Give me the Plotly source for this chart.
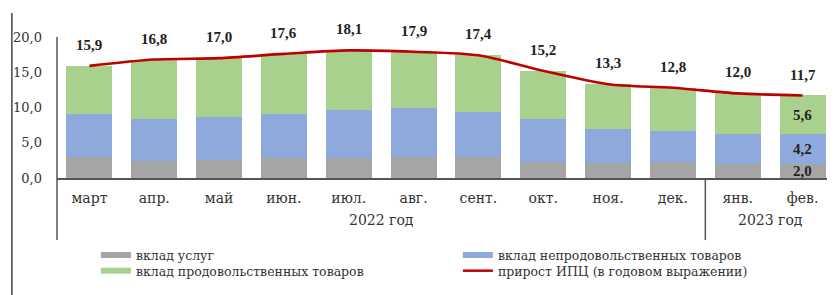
import plotly.graph_objects as go

months = ["март", "апр.", "май", "июн.", "июл.", "авг.", "сент.", "окт.", "ноя.", "дек.", "янв.", "фев."]
services = [3.0, 2.4, 2.5, 2.8, 2.9, 3.0, 3.0, 2.3, 2.1, 2.2, 2.0, 2.0]
nonfood = [6.1, 6.0, 6.2, 6.3, 6.7, 6.9, 6.3, 6.0, 4.9, 4.5, 4.2, 4.2]
food = [6.8, 8.4, 8.3, 8.5, 8.5, 8.0, 8.1, 6.9, 6.3, 6.1, 5.8, 5.6]
cpi = [15.9, 16.8, 17.0, 17.6, 18.1, 17.9, 17.4, 15.2, 13.3, 12.8, 12.0, 11.7]
year_labels = ["2022 год", "2023 год"]
year_spans = [(0, 9), (10, 11)]

names = ["вклад услуг", "вклад непродовольственных товаров",
         "вклад продовольственных товаров", "прирост ИПЦ (в годовом выражении)"]
colors = ["#A5A5A5", "#8EA9DB", "#A9D18E", "#C00000"]

SERIF = "Liberation Serif"
WIDE = "DejaVu Serif"
fmt = lambda v: f"{v:.1f}".replace(".", ",")

fig = go.Figure()
for vals, name, col in zip([services, nonfood, food], names[:3], colors[:3]):
    fig.add_trace(go.Bar(x=months, y=vals, name=name, marker_color=col,
                         marker_line_width=0, showlegend=False))

fig.add_trace(go.Scatter(x=months, y=cpi, mode="lines", name=names[3],
                         line=dict(color=colors[3], width=2.6, shape="spline", smoothing=0.8),
                         showlegend=False))

# legend entries (wide thin swatches), two legends = two rows
for i, (name, col, w) in enumerate(zip(names, colors, [6, 6, 6, 2.5])):
    fig.add_trace(go.Scatter(x=[None], y=[None], mode="lines", name=name,
                             line=dict(color=col, width=w), showlegend=True,
                             legend="legend" if i in (0, 1) else "legend2"))

annotations = []
for m, v in zip(months, cpi):
    annotations.append(dict(x=m, y=v, text=f"<b>{fmt(v)}</b>", showarrow=False,
                            yshift=21, font=dict(family=SERIF, size=15, color="#222")))

# labels inside last bar
last = len(months) - 1
segs = [services[last], nonfood[last], food[last]]
base = 0
for s in segs:
    annotations.append(dict(x=months[last], y=base + s / 2, text=f"<b>{fmt(s)}</b>",
                            showarrow=False, font=dict(family=SERIF, size=15, color="#222")))
    base += s

for lab, (a, b) in zip(year_labels, year_spans):
    annotations.append(dict(x=(a + b) / 2, y=-0.30, xref="x", yref="paper", text=lab,
                            yanchor="middle", showarrow=False,
                            font=dict(family=WIDE, size=14, color="#333")))

shapes = [
    dict(type="line", xref="paper", yref="paper", x0=0, x1=0, y0=-0.44, y1=1.0,
         line=dict(color="#555", width=1.5)),
    dict(type="line", xref="x", yref="paper", x0=9.5, x1=9.5, y0=0, y1=-0.44,
         line=dict(color="#555", width=1.5)),
    dict(type="line", xref="paper", yref="paper", x0=-0.058, x1=-0.058, y0=-0.83, y1=1.17,
         line=dict(color="#444", width=1.5)),
]

legend_common = dict(orientation="h", x=0.05, xanchor="left", yanchor="middle",
                     entrywidth=317, entrywidthmode="pixels", traceorder="normal",
                     bgcolor="rgba(0,0,0,0)",
                     font=dict(family=WIDE, size=12.5, color="#333"), itemwidth=30)

# page body has an 8px margin, so the figure is 8px smaller and shifted
fig.update_layout(
    width=827, height=287,
    margin=dict(l=49, r=0, t=29, b=117, autoexpand=False),
    paper_bgcolor="white", plot_bgcolor="white",
    barmode="stack", bargap=0.29,
    separators=", ",
    font=dict(family=SERIF, size=13, color="#333"),
    xaxis=dict(showline=True, linecolor="#555", linewidth=1.5, ticks="",
               ticklabelstandoff=6, automargin=False,
               tickfont=dict(family=WIDE, size=14, color="#333"), range=[-0.5, 11.5]),
    yaxis=dict(range=[0, 20], dtick=5, tickformat=".1f", showgrid=False, zeroline=False,
               showline=False, ticks="", ticklabelstandoff=14, automargin=False,
               tickfont=dict(family=WIDE, size=13, color="#333")),
    legend=dict(y=-0.548, **legend_common),
    legend2=dict(y=-0.66, **legend_common),
    annotations=annotations,
    shapes=shapes,
)

fig.write_html("out.html")
